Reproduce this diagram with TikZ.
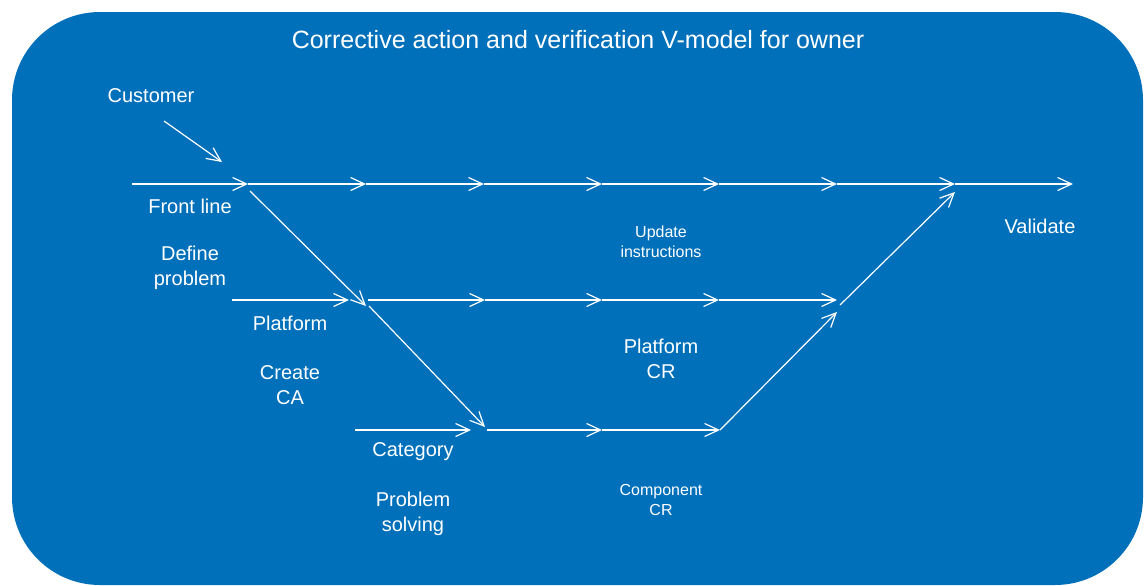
\documentclass[tikz,border=0pt]{standalone}
\usepackage{fontspec}
\setmainfont{Liberation Sans}
\usetikzlibrary{arrows.meta}
\definecolor{vblue}{RGB}{0,112,187}
\tikzset{
  flow/.style={draw=white, line width=0.6pt, -{Straight Barb[length=7pt,width=6.5pt]}},
  lbl/.style={text=white, align=center, font=\fontsize{10}{12.5}\selectfont},
  small/.style={text=white, align=center, font=\fontsize{8}{10}\selectfont}
}

\begin{document}
\begin{tikzpicture}[x=0.5pt,y=-0.5pt]
    \useasboundingbox (0,0) rectangle (1146,585);
    \fill[vblue, rounded corners=44pt] (12,12) rectangle (1143,585);
    % rows of the V
    \foreach \x [count=\i] in {132,248,366,484,602,719,837,955,1073}
        \coordinate (t\i) at (\x,184);
    \foreach \x [count=\i] in {232,349,368,485,602,719,837}
        \coordinate (m\i) at (\x,300);
    \foreach \x [count=\i] in {355,471,487,602,720}
        \coordinate (c\i) at (\x,430);
    \coordinate (d1) at (250,191);
    \coordinate (d2) at (366,306);
    \coordinate (d3) at (369,306);
    \coordinate (d4) at (485,427);
    \coordinate (u1) at (837,312);
    \coordinate (u2) at (840,305);
    \coordinate (u3) at (955,192);
    \coordinate (cs) at (164,121);
    \coordinate (ce) at (222,162);
    \foreach \i/\j in {1/2,2/3,3/4,4/5,5/6,6/7,7/8,8/9}
        \draw[flow] (t\i) -- (t\j);
    \foreach \i/\j in {1/2,3/4,4/5,5/6,6/7}
        \draw[flow] (m\i) -- (m\j);
    \foreach \i/\j in {1/2,3/4,4/5}
        \draw[flow] (c\i) -- (c\j);
    \draw[flow] (d1) -- (d2);
    \draw[flow] (d3) -- (d4);
    \draw[flow] (c5) -- (u1);
    \draw[flow] (u2) -- (u3);
    \draw[flow] (cs) -- (ce);
    % labels
    \node[text=white, font=\fontsize{12.5}{15}\selectfont] (title) at (578,40) {Corrective action and verification V-model for owner};
    \node[lbl] (customer) at (151,96) {Customer};
    \node[lbl] (front) at (190,206) {Front line};
    \node[lbl] (define) at (190,268) {Define\\problem};
    \node[lbl] (platform) at (290,323) {Platform};
    \node[lbl] (create) at (290,385) {Create\\CA};
    \node[lbl] (category) at (413,452) {Category};
    \node[lbl] (solving) at (413,514) {Problem\\solving};
    \node[small] (update) at (661,242) {Update\\instructions};
    \node[lbl] (platcr) at (661,359) {Platform\\CR};
    \node[small] (compcr) at (661,500) {Component\\CR};
    \node[lbl] (validate) at (1040,226) {Validate};
\end{tikzpicture}
\end{document}
